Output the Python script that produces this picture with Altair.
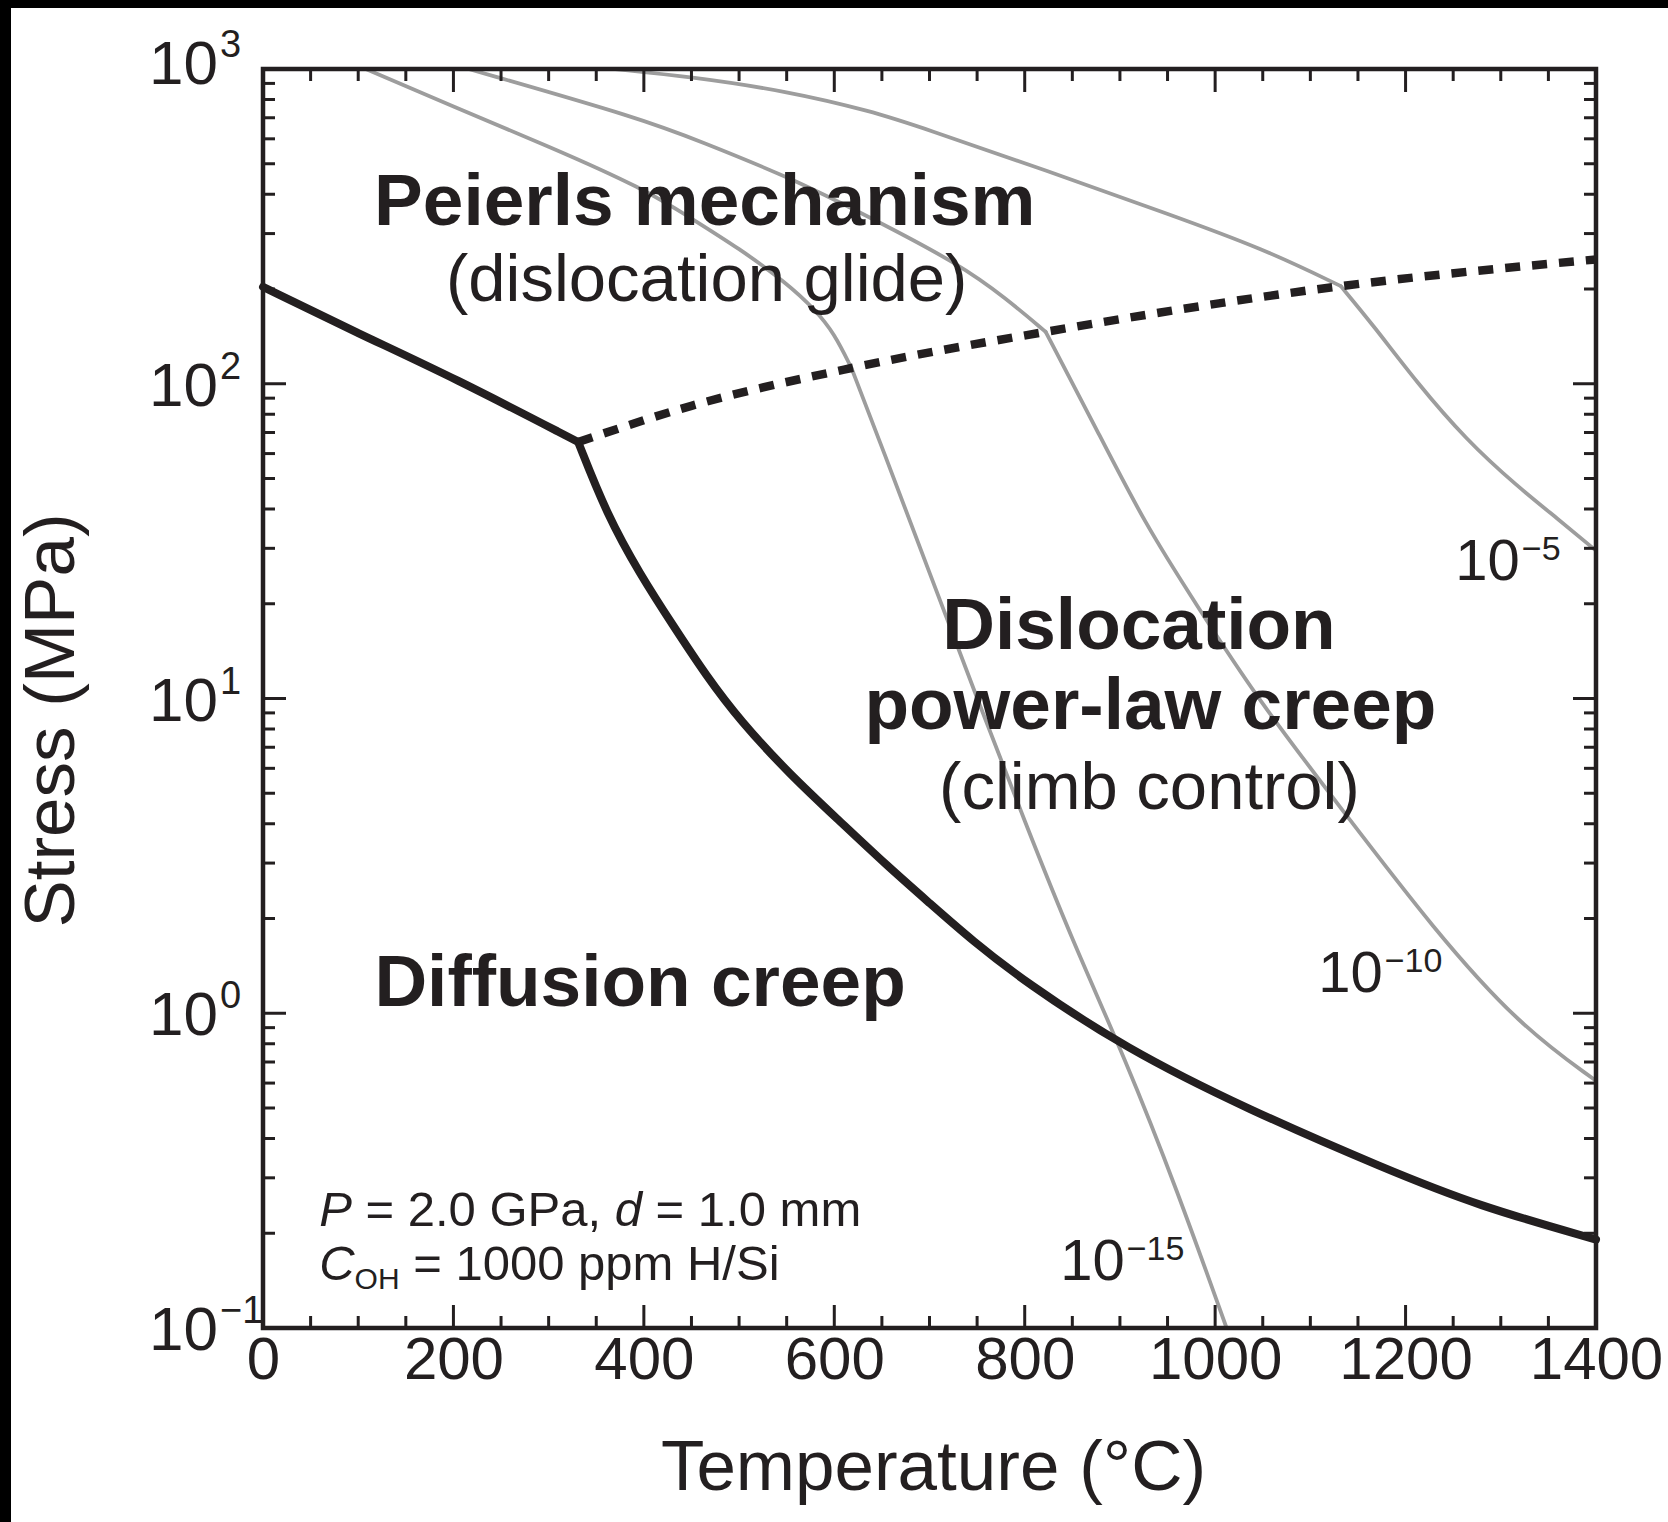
import altair as alt
import pandas as pd

# ---------------- data ----------------
# thick black boundary: Peierls / diffusion branch and diffusion / dislocation branch
black_a_T = [0, 100, 200, 331]
black_a_S = [203, 144.5, 104.7, 65.3]
black_b_T = [331, 361, 396, 431, 466, 501, 553, 606, 655, 700, 745, 800, 905, 1034, 1179, 1275, 1400]
black_b_S = [65.3, 38.5, 24.8, 17.0, 11.75, 8.51, 5.75, 4.07, 2.95, 2.24, 1.70, 1.26, 0.776,
             0.495, 0.320, 0.245, 0.191]

# dashed boundary Peierls / power-law creep
dash_T = [331, 450, 618, 822, 1132, 1400]
dash_S = [65.3, 85.1, 112.2, 146.2, 204.2, 248.3]

# strain-rate contours (grey), each split at the dashed boundary
r15a_T = [108, 200, 300, 400, 450, 500, 550, 580, 600, 618]
r15a_S = [1000, 758.6, 568.9, 416.9, 335.0, 269.2, 208.9, 171.8, 144.5, 112.2]
r15b_T = [618, 650, 700, 750, 800, 850, 905, 960, 1012]
r15b_S = [112.2, 63.1, 25.1, 10.0, 4.07, 1.70, 0.724, 0.275, 0.1]

r10a_T = [216, 400, 459, 550, 640, 731, 780, 822]
r10a_S = [1000, 691.8, 588.8, 457.1, 335.0, 239.9, 187.1, 146.2]
r10b_T = [822, 873, 927, 980, 1044, 1135, 1230, 1320, 1400]
r10b_S = [146.2, 74.1, 35.5, 19.95, 10.0, 4.37, 1.84, 0.912, 0.610]

r5a_T = [370, 450, 550, 640, 691, 825, 950, 1050, 1132]
r5a_S = [1000, 944, 851, 733, 653, 473, 347, 269, 204.2]
r5b_T = [1132, 1166, 1212, 1264, 1317, 1360, 1400]
r5b_S = [204.2, 153.5, 100.7, 66.2, 47.3, 37.2, 29.5]

# text annotations
bold_text = ["Peierls mechanism", "Dislocation", "power-law creep", "Diffusion creep"]
bold_T = [464, 920, 932, 396]
bold_S = [318.4, 14.35, 8.02, 1.058]
plain_text = ["(dislocation glide)", "(climb control)"]
plain_T = [466, 931]
plain_S = [183.2, 4.47]

rate_exp = ["\u22125", "\u221210", "\u221215"]
rate_T = [1320, 1176, 905]
rate_S = [23.8, 1.171, 0.1419]

param_T = [59]
param_S1 = [0.211]
param_S2 = [0.142]

# axes
x_labels = [0, 200, 400, 600, 800, 1000, 1200, 1400]
x_minor = [50, 100, 150, 250, 300, 350, 450, 500, 550, 650, 700, 750, 850, 900, 950,
           1050, 1100, 1150, 1250, 1300, 1350]
y_decades = [0.1, 1, 10, 100, 1000]
y_exp = ["\u22121", "0", "1", "2", "3"]
y_label_lift = [0, 0, 0, 0, 1]   # the top label sits a little higher in the reference
y_minor = [0.2, 0.3, 0.4, 0.5, 0.6, 0.7, 0.8, 0.9,
           2, 3, 4, 5, 6, 7, 8, 9,
           20, 30, 40, 50, 60, 70, 80, 90,
           200, 300, 400, 500, 600, 700, 800, 900]

# ---------------- styling ----------------
W, H = 1333, 1259
PL, PT, PR, PB = 263, 69, 72, 194
INK = "#231f20"
GREY = "#9d9d9d"
FONT = "Liberation Sans"


def seg(name, T, S):
    return pd.DataFrame({"T": T, "S": S, "series": name})


xs = alt.Scale(domain=[0, 1400], nice=False, zero=False)
ys = alt.Scale(type="log", domain=[0.1, 1000], nice=False)

X = alt.X("T:Q", scale=xs, axis=alt.Axis(
    values=x_labels, format="d", labelFontSize=60, labelFont=FONT, labelColor=INK, labelPadding=3,
    labelFlush=False, ticks=False, tickSize=0, domain=False, grid=False, zindex=1,
    title="Temperature (°C)", titleFont=FONT, titleFontSize=71, titleFontWeight="normal",
    titleColor=INK, titleX=670, titleY=161, titleBaseline="alphabetic", titleAlign="center"))
Y = alt.Y("S:Q", scale=ys, axis=alt.Axis(
    labels=False, ticks=False, domain=False, grid=False, zindex=1,
    title="Stress (MPa)", titleFont=FONT, titleFontSize=71, titleFontWeight="normal",
    titleColor=INK, titleX=-190, titleY=651, titleAngle=270, titleBaseline="alphabetic",
    titleAlign="center"))

one = pd.DataFrame({"k": [0]})

# page background: thin black strips along the left and top edges, white elsewhere
page = alt.Chart(one).mark_rect(color="white").encode(
    x=alt.value(-PL), x2=alt.value(W + PR), y=alt.value(-PT), y2=alt.value(H + PB))
band_left = alt.Chart(one).mark_rect(color="black").encode(
    x=alt.value(-PL), x2=alt.value(-PL + 11), y=alt.value(-PT), y2=alt.value(H + PB))
band_top = alt.Chart(one).mark_rect(color="black").encode(
    x=alt.value(-PL), x2=alt.value(W + PR), y=alt.value(-PT), y2=alt.value(-PT + 8))

grey_df = pd.concat([seg("r15a", r15a_T, r15a_S), seg("r15b", r15b_T, r15b_S),
                     seg("r10a", r10a_T, r10a_S), seg("r10b", r10b_T, r10b_S),
                     seg("r5a", r5a_T, r5a_S), seg("r5b", r5b_T, r5b_S)])
black_df = pd.concat([seg("ba", black_a_T, black_a_S), seg("bb", black_b_T, black_b_S)])
dash_df = seg("dash", dash_T, dash_S)

grey = alt.Chart(grey_df).mark_line(color=GREY, strokeWidth=3.8, interpolate="basis",
                                    strokeCap="round").encode(x=X, y=Y, detail="series:N")
dashed = alt.Chart(dash_df).mark_line(color=INK, strokeWidth=8.5, strokeDash=[15, 12],
                                      interpolate="monotone").encode(x=X, y=Y)
black = alt.Chart(black_df).mark_line(color=INK, strokeWidth=8, interpolate="basis",
                                      strokeCap="round").encode(x=X, y=Y, detail="series:N")

bold_df = pd.DataFrame({"T": bold_T, "S": bold_S, "t": bold_text})
plain_df = pd.DataFrame({"T": plain_T, "S": plain_S, "t": plain_text})
bold_lbl = alt.Chart(bold_df).mark_text(font=FONT, fontSize=73, fontWeight="bold", color=INK,
                                        align="center", baseline="alphabetic").encode(x=X, y=Y, text="t:N")
plain_lbl = alt.Chart(plain_df).mark_text(font=FONT, fontSize=67, color=INK,
                                          align="center", baseline="alphabetic").encode(x=X, y=Y, text="t:N")

rate_df = pd.DataFrame({"T": rate_T, "S": rate_S, "e": rate_exp})
rate_base = alt.Chart(rate_df).mark_text(font=FONT, fontSize=58, color=INK, align="right",
                                         baseline="alphabetic").encode(x=X, y=Y, text=alt.value("10"))
rate_sup = alt.Chart(rate_df).mark_text(font=FONT, fontSize=34, color=INK, align="left",
                                        baseline="alphabetic", dx=2, dy=-20).encode(x=X, y=Y, text="e:N")

p1 = pd.DataFrame({"T": param_T, "S": param_S1})
p2 = pd.DataFrame({"T": param_T, "S": param_S2})
PF = 49
SP = 0.278  # width of a space, in em


def ptxt(df, s, dx, size=PF, style="normal", dy=0):
    return alt.Chart(df).mark_text(font=FONT, fontSize=size, fontStyle=style, color=INK,
                                   align="left", baseline="alphabetic", dx=dx, dy=dy).encode(
        x=X, y=Y, text=alt.value(s))


params = [
    ptxt(p1, "P", 0, style="italic"),
    ptxt(p1, "= 2.0 GPa,", (0.667 + SP) * PF),
    ptxt(p1, "d", (0.667 + SP + 4.809 + SP) * PF, style="italic"),
    ptxt(p1, "= 1.0 mm", (0.667 + SP + 4.809 + SP + 0.556 + SP) * PF),
    ptxt(p2, "C", 0, style="italic"),
    ptxt(p2, "OH", 0.722 * PF, size=30, dy=9),
    ptxt(p2, "= 1000 ppm H/Si", 0.722 * PF + 45 + SP * PF),
]

ydec = pd.DataFrame({"S": y_decades, "e": y_exp, "lift": y_label_lift})
ylabels = []
for lift, shift in [(0, 0), (1, -7)]:
    sub = ydec[ydec["lift"] == lift]
    ylabels.append(alt.Chart(sub).mark_text(font=FONT, fontSize=62, color=INK, align="right",
                                            baseline="alphabetic", dy=22 + shift).encode(
        x=alt.value(-45), y=Y, text=alt.value("10")))
    ylabels.append(alt.Chart(sub).mark_text(font=FONT, fontSize=38, color=INK, align="left",
                                            baseline="alphabetic", dy=-5 + shift).encode(
        x=alt.value(-43), y=Y, text="e:N"))

MAJ, MIN, TW = 23, 12, 3
xmaj = pd.DataFrame({"T": x_labels})
xmin = pd.DataFrame({"T": x_minor})
ymaj = pd.DataFrame({"S": y_decades})
ymin = pd.DataFrame({"S": y_minor})


def rule(df):
    return alt.Chart(df).mark_rule(color=INK, strokeWidth=TW)


ticks = [
    rule(xmaj).encode(x=X, y=alt.value(H - MAJ), y2=alt.value(H)),
    rule(xmaj).encode(x=X, y=alt.value(0), y2=alt.value(MAJ)),
    rule(xmin).encode(x=X, y=alt.value(H - MIN), y2=alt.value(H)),
    rule(xmin).encode(x=X, y=alt.value(0), y2=alt.value(MIN)),
    rule(ymaj).encode(y=Y, x=alt.value(0), x2=alt.value(MAJ)),
    rule(ymaj).encode(y=Y, x=alt.value(W - MAJ), x2=alt.value(W)),
    rule(ymin).encode(y=Y, x=alt.value(0), x2=alt.value(MIN)),
    rule(ymin).encode(y=Y, x=alt.value(W - MIN), x2=alt.value(W)),
]

frame = alt.Chart(one).mark_rect(filled=False, stroke=INK, strokeWidth=4.5).encode(
    x=alt.value(0), x2=alt.value(W), y=alt.value(0), y2=alt.value(H))

chart = alt.layer(
    page, band_left, band_top, grey, dashed, black, bold_lbl, plain_lbl, rate_base, rate_sup,
    *params, *ylabels, *ticks, frame
).properties(
    width=W, height=H,
    autosize=alt.AutoSizeParams(type="pad"),
    padding=0,
).configure(background="white").configure_view(stroke=None)

chart.save("out.html", embed_options={"renderer": "svg", "actions": False})
